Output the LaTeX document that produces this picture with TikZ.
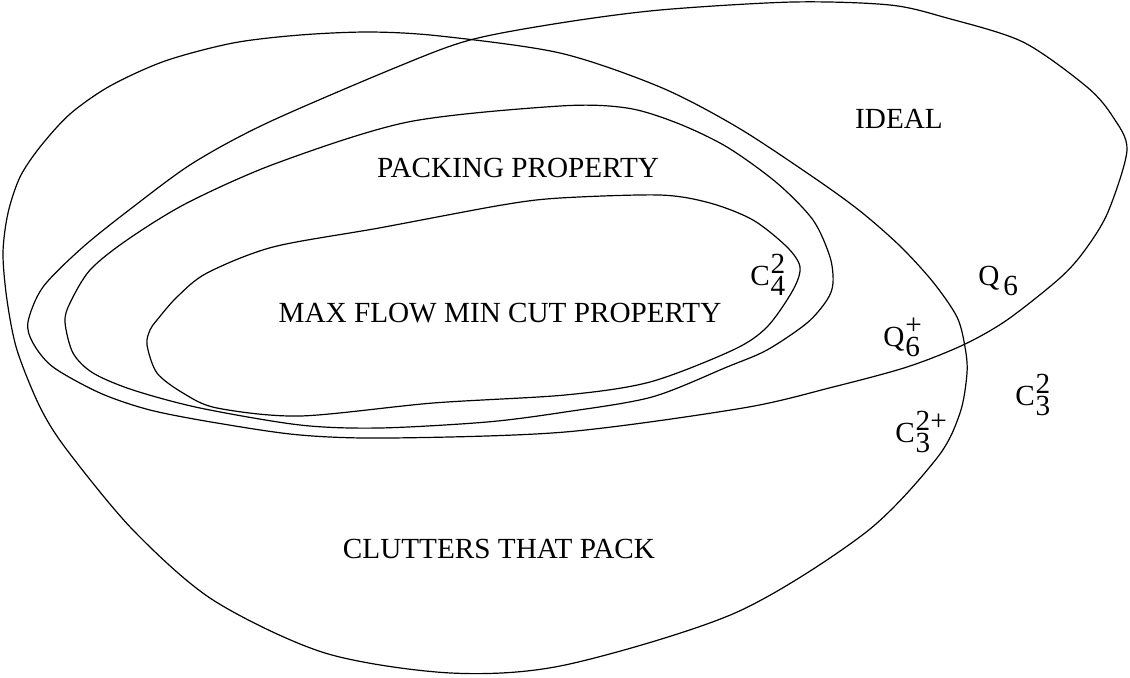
\documentclass[tikz,border=0pt]{standalone}
\usepackage{fontspec}
\setmainfont{Liberation Serif}
\newcommand\lbl[3]{#1\kern0.4pt\rlap{\raisebox{6pt}{#2}}\raisebox{-5pt}{#3}}
\begin{document}
\begin{tikzpicture}[x=0.5pt,y=-0.5pt,
  setline/.style={line width=0.6pt, black},
  settext/.style={font=\fontsize{14.6}{17}\selectfont, inner sep=0pt},
]
\useasboundingbox (0,0) rectangle (1130,677);
% Clutters that pack
\draw[setline] plot[smooth cycle, tension=0.5] coordinates {
 (3,253) (8,213) (20,177) (40,147) (70,114) (110,86) (165,61) (233,43)
 (300,35) (370,32) (440,36) (560,53) (660,87) (737,127) (813,177)
 (860,211) (900,246) (933,282) (957,317) (965,347) (967,373) (960,413)
 (937,458) (865,533) (735,613) (565,665) (451,673) (325,653) (213,600)
 (133,530) (67,450) (40,407) (17,350) (7,300)};
% Ideal
\draw[setline] plot[smooth cycle, tension=0.5] coordinates {
 (28,322) (43,287) (83,247) (133,207) (193,163) (267,123)
 (397,67) (470,40) (560,23) (660,10) (793,2) (890,5) (947,18) (1023,42)
 (1087,87) (1113,117) (1127,150) (1108,212) (1085,250) (1060,278)
 (1007,320) (963,345) (907,367) (833,387) (743,408) (565,432) (390,438)
 (300,435) (217,423) (150,410) (100,393) (53,367) (33,343)};
% Packing property
\draw[setline] plot[smooth cycle, tension=0.5] coordinates {
 (65,322) (70,303) (90,270) (127,240) (187,203) (277,163)
 (408,122) (560,106) (627,108) (677,123) (727,147) (777,183) (813,220)
 (830,257) (833,283) (827,300) (807,323) (767,350) (727,367) (652,397)
 (565,412) (487,422) (379,428) (300,425) (200,408) (133,390) (93,373)
 (73,353)};
% Max flow min cut property
\draw[setline] plot[smooth cycle, tension=0.5] coordinates {
 (147,345) (150,330) (157,320) (177,297) (207,273) (273,247) (379,228)
 (502,205) (560,198) (660,195) (710,203) (753,220) (787,247) (800,267)
 (793,290) (767,327) (733,350) (650,382) (565,395) (433,403) (300,416)
 (217,408) (183,393) (157,373)};
% labels
\node[settext, anchor=base] (ideal) at (899,128) {IDEAL};
\node[settext, anchor=base] (pack) at (518,177) {PACKING PROPERTY};
\node[settext, anchor=base] (mfmc) at (500,322) {MAX FLOW MIN CUT PROPERTY};
\node[settext, anchor=base] (clut) at (499,558) {CLUTTERS THAT PACK};
\node[settext, anchor=base west] (c42) at (750,285) {\lbl{C}{2}{4}};
\node[settext, anchor=base west] (q6) at (978,285) {Q\kern2pt\raisebox{-5pt}{6}};
\node[settext, anchor=base west] (q6p) at (883,346) {\lbl{Q}{+}{6}};
\node[settext, anchor=base west] (c32) at (1015,405) {\lbl{C}{2}{3}};
\node[settext, anchor=base west] (c32p) at (895,442) {\lbl{C}{2+}{3}};
\end{tikzpicture}
\end{document}
